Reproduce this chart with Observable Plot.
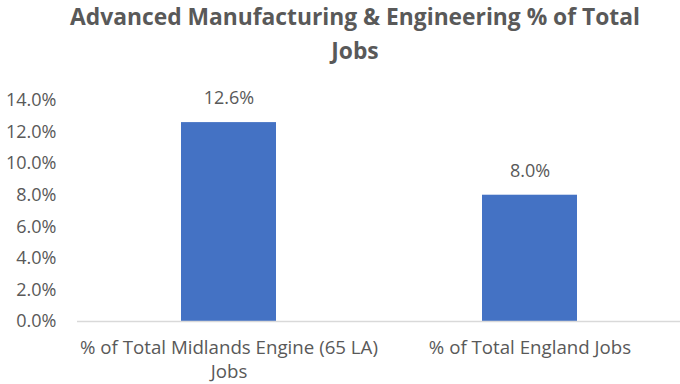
<!DOCTYPE html>
<html>
<head>
<meta charset="utf-8">
<script src="https://cdn.jsdelivr.net/npm/d3@7"></script>
<script src="https://cdn.jsdelivr.net/npm/@observablehq/plot@0.6"></script>
<style>
  html, body { margin: 0; padding: 0; background: #ffffff; }
  #wrap { position: relative; width: 680px; height: 384px; overflow: hidden; font-family: "Open Sans", sans-serif; }
  #title { position: absolute; left: 30px; top: 0px; width: 650px; text-align: center;
           font-weight: 700; font-size: 22.8px; line-height: 34px; color: #595959; }
  #chart { position: absolute; left: 0; top: 0; }
</style>
</head>
<body>
<div id="wrap">
  <div id="chart"></div>
  <div id="title">Advanced Manufacturing &amp; Engineering % of Total<br>Jobs</div>
</div>
<script>
const categories = ["% of Total Midlands Engine (65 LA) Jobs", "% of Total England Jobs"];
const values = [0.126, 0.080];
const yTicks = [0, 0.02, 0.04, 0.06, 0.08, 0.10, 0.12, 0.14];

const data = categories.map((c, i) => ({category: c, value: values[i]}));
const fmt = d3.format(".1%");
const textColor = "#595959";

const chart = Plot.plot({
  width: 680,
  height: 384,
  marginTop: 100,
  marginBottom: 63,
  marginLeft: 77,
  marginRight: 0,
  style: {fontFamily: "Open Sans", color: textColor, background: "transparent"},
  x: {domain: categories, padding: 0, label: null},
  y: {domain: [0, 0.14], label: null},
  marks: [
    Plot.axisY({ticks: yTicks, tickFormat: fmt, tickSize: 0, tickPadding: 21, fontSize: 18, fill: textColor, label: null}),
    Plot.axisX({tickSize: 0, tickPadding: 16, fontSize: 18.7, fill: textColor, lineWidth: 17.5, lineHeight: 1.26, label: null}),
    Plot.barY(data, {x: "category", y: "value", fill: "#4472C4", insetLeft: 103, insetRight: 103}),
    Plot.ruleY([0], {stroke: "#d9d9d9", strokeWidth: 1.3}),
    Plot.text(data, {x: "category", y: "value", text: d => fmt(d.value), dy: -24, fontSize: 18, fill: textColor})
  ]
});
document.getElementById("chart").appendChild(chart);
</script>
</body>
</html>
